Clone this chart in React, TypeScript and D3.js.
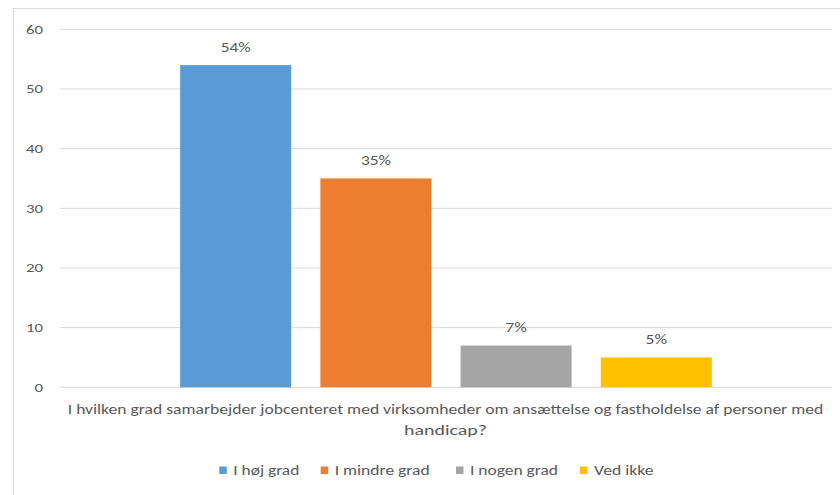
import React from "react";
import * as d3 from "d3";

const categories = ["I hvilken grad samarbejder jobcenteret med virksomheder om ansættelse og fastholdelse af personer med handicap?"];
const categoryLines = [
  "I hvilken grad samarbejder jobcenteret med virksomheder om ansættelse og fastholdelse af personer med",
  "handicap?",
];
const seriesNames = ["I høj grad", "I mindre grad", "I nogen grad", "Ved ikke"];
const seriesValues = [54, 35, 7, 5];
const seriesColors = ["#5b9bd5", "#ed7d31", "#a5a5a5", "#ffc000"];
const yTicks = [0, 10, 20, 30, 40, 50, 60];

const W = 840;
const H = 495;
const plot = { left: 60, right: 832, top: 29.3, bottom: 387.3 };
const FONT = "Carlito, Calibri, Lato, 'Open Sans', sans-serif";
const TEXT = "#595959";

// Rendered widths of the text runs (Calibri metrics at this chart's size)
const DIGIT_W = 8.5;
const PCT_W = 13;
const categoryLineWidths = [755.5, 83];
const legendTextWidths = [66, 95, 88, 59.5];
const legendX = [219.3, 320.7, 456, 580];

export default function App() {
  const y = d3.scaleLinear().domain([0, 60]).range([plot.bottom, plot.top]);
  const x0 = d3
    .scaleBand<string>()
    .domain(categories)
    .range([plot.left, plot.right])
    .paddingInner(0)
    .paddingOuter(0.226);
  const x1 = d3
    .scaleBand<string>()
    .domain(seriesNames)
    .range([0, x0.bandwidth()])
    .paddingInner(0.208)
    .paddingOuter(0);

  const catX = (x0(categories[0]) ?? 0) + x0.bandwidth() / 2;

  return (
    <svg
      width={W}
      height={H}
      style={{ position: "absolute", left: 0, top: 0, background: "#fff" }}
      fontFamily={FONT}
      fill={TEXT}
    >
      <rect x={13.5} y={8.5} width={W} height={H} fill="#fff" stroke="#d9d9d9" />
      {yTicks.map((t) => (
        <g key={t}>
          <line x1={plot.left} x2={plot.right} y1={y(t)} y2={y(t)} stroke="#d9d9d9" strokeWidth={1} />
          <text
            x={43}
            y={y(t) + 4.5}
            textAnchor="end"
            fontSize={13}
            textLength={String(t).length * DIGIT_W}
            lengthAdjust="spacingAndGlyphs"
          >
            {t}
          </text>
        </g>
      ))}
      {seriesNames.map((s, i) => {
        const bx = (x0(categories[0]) ?? 0) + (x1(s) ?? 0);
        const by = y(seriesValues[i]);
        const label = `${seriesValues[i]}%`;
        return (
          <g key={s}>
            <rect x={bx} y={by} width={x1.bandwidth()} height={y(0) - by} fill={seriesColors[i]} />
            <text
              x={bx + x1.bandwidth() / 2}
              y={by - 13.3}
              textAnchor="middle"
              fontSize={14}
              textLength={String(seriesValues[i]).length * DIGIT_W + PCT_W}
              lengthAdjust="spacingAndGlyphs"
            >
              {label}
            </text>
          </g>
        );
      })}
      {categoryLines.map((line, i) => (
        <text
          key={i}
          x={catX - 0.5}
          y={413.8 + i * 21.2}
          textAnchor="middle"
          fontSize={15}
          textLength={categoryLineWidths[i]}
          lengthAdjust="spacingAndGlyphs"
        >
          {line}
        </text>
      ))}
      {seriesNames.map((name, i) => (
        <g key={name}>
          <rect x={legendX[i]} y={466.5} width={7.5} height={7.5} fill={seriesColors[i]} />
          <text
            x={legendX[i] + 14}
            y={475}
            fontSize={15}
            textLength={legendTextWidths[i]}
            lengthAdjust="spacingAndGlyphs"
          >
            {name}
          </text>
        </g>
      ))}
    </svg>
  );
}
